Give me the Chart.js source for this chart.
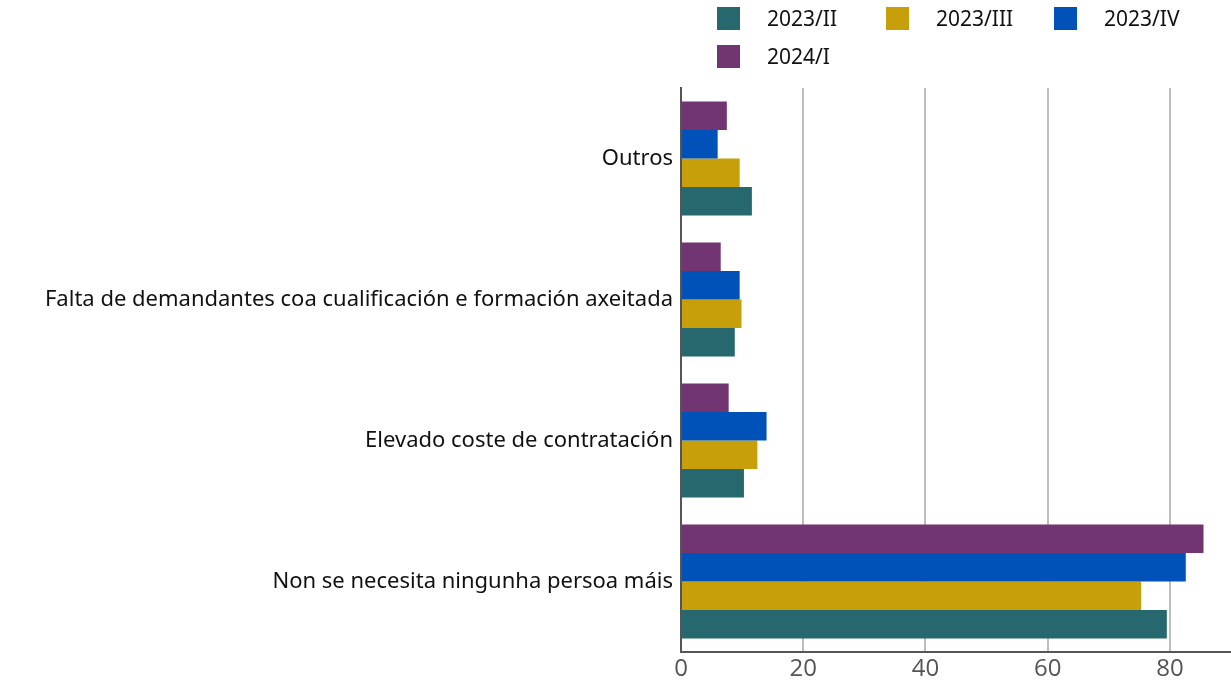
<!DOCTYPE html>
<html>
<head>
<meta charset="utf-8">
<script src="https://cdn.jsdelivr.net/npm/chart.js@4.4.1/dist/chart.umd.min.js"></script>
<style>
  body { margin: 0; background: #fff; }
  #wrap { position: relative; width: 1231px; height: 686px; }
  #legend { position: absolute; left: 0; top: 0; width: 1231px; height: 88px; font-family: "Noto Sans", sans-serif; font-size: 21px; color: #111; }
  .item { position: absolute; height: 24px; line-height: 24px; }
  .item .box { position: absolute; left: 0; top: 0; width: 23px; height: 23px; }
  .item .lbl { position: absolute; left: 50px; top: -1px; white-space: nowrap; }
</style>
</head>
<body>
<div id="wrap">
  <canvas id="chart"></canvas>
  <div id="legend"></div>
</div>
<script>
// categorías (de arriba abaixo)
const categories = [
    'Outros',
    'Falta de demandantes coa cualificación e formación axeitada',
    'Elevado coste de contratación',
    'Non se necesita ningunha persoa máis'
];

const seriesNames = ['2023/II', '2023/III', '2023/IV', '2024/I'];
const seriesColors = ['#26686D', '#C79F0B', '#0052B9', '#713571'];

const values2023II  = [11.6, 8.8, 10.3, 79.5];
const values2023III = [9.6, 9.9, 12.5, 75.3];
const values2023IV  = [6.0, 9.6, 14.0, 82.6];
const values2024I   = [7.5, 6.5, 7.8, 85.5];

const xTicks = [0, 20, 40, 60, 80];

const seriesValues = [values2023II, values2023III, values2023IV, values2024I];

// lenda en HTML (grella de 3 columnas)
const legendPos = [[717, 7], [886, 7], [1054, 7], [717, 45]];
const legendEl = document.getElementById('legend');
seriesNames.forEach((name, i) => {
    const item = document.createElement('div');
    item.className = 'item';
    item.style.left = legendPos[i][0] + 'px';
    item.style.top = legendPos[i][1] + 'px';
    item.innerHTML = `<div class="box" style="background:${seriesColors[i]}"></div><div class="lbl">${name}</div>`;
    legendEl.appendChild(item);
});

// o último período vai arriba en cada grupo
const datasets = seriesNames.map((name, i) => ({
    label: name,
    data: seriesValues[i],
    backgroundColor: seriesColors[i],
    borderWidth: 0,
    barPercentage: 1,
    categoryPercentage: 0.81
})).reverse();

new Chart(document.getElementById('chart'), {
    type: 'bar',
    data: { labels: categories, datasets: datasets },
    options: {
        indexAxis: 'y',
        responsive: true,
        maintainAspectRatio: false,
        animation: false,
        layout: { padding: { top: 88, right: 0, bottom: 0, left: 0 } },
        plugins: {
            legend: { display: false },
            tooltip: { enabled: false }
        },
        scales: {
            x: {
                min: 0,
                max: 90,
                afterBuildTicks: (scale) => {
                    scale.ticks = xTicks.map(v => ({ value: v }));
                },
                afterFit: (scale) => { scale.height = 34; },
                grid: { color: '#BDBDBD', lineWidth: 2, drawTicks: false },
                border: { display: true, color: '#555555', width: 2 },
                ticks: {
                    padding: 3,
                    color: '#555555',
                    font: { family: '"Open Sans", sans-serif', size: 24 }
                }
            },
            y: {
                afterFit: (scale) => { scale.width = 681; },
                grid: { display: false, drawTicks: false },
                border: { display: true, color: '#555555', width: 2 },
                ticks: {
                    padding: 8,
                    color: '#111111',
                    font: { family: '"Noto Sans", sans-serif', size: 22 }
                }
            }
        }
    }
});
</script>
</body>
</html>
